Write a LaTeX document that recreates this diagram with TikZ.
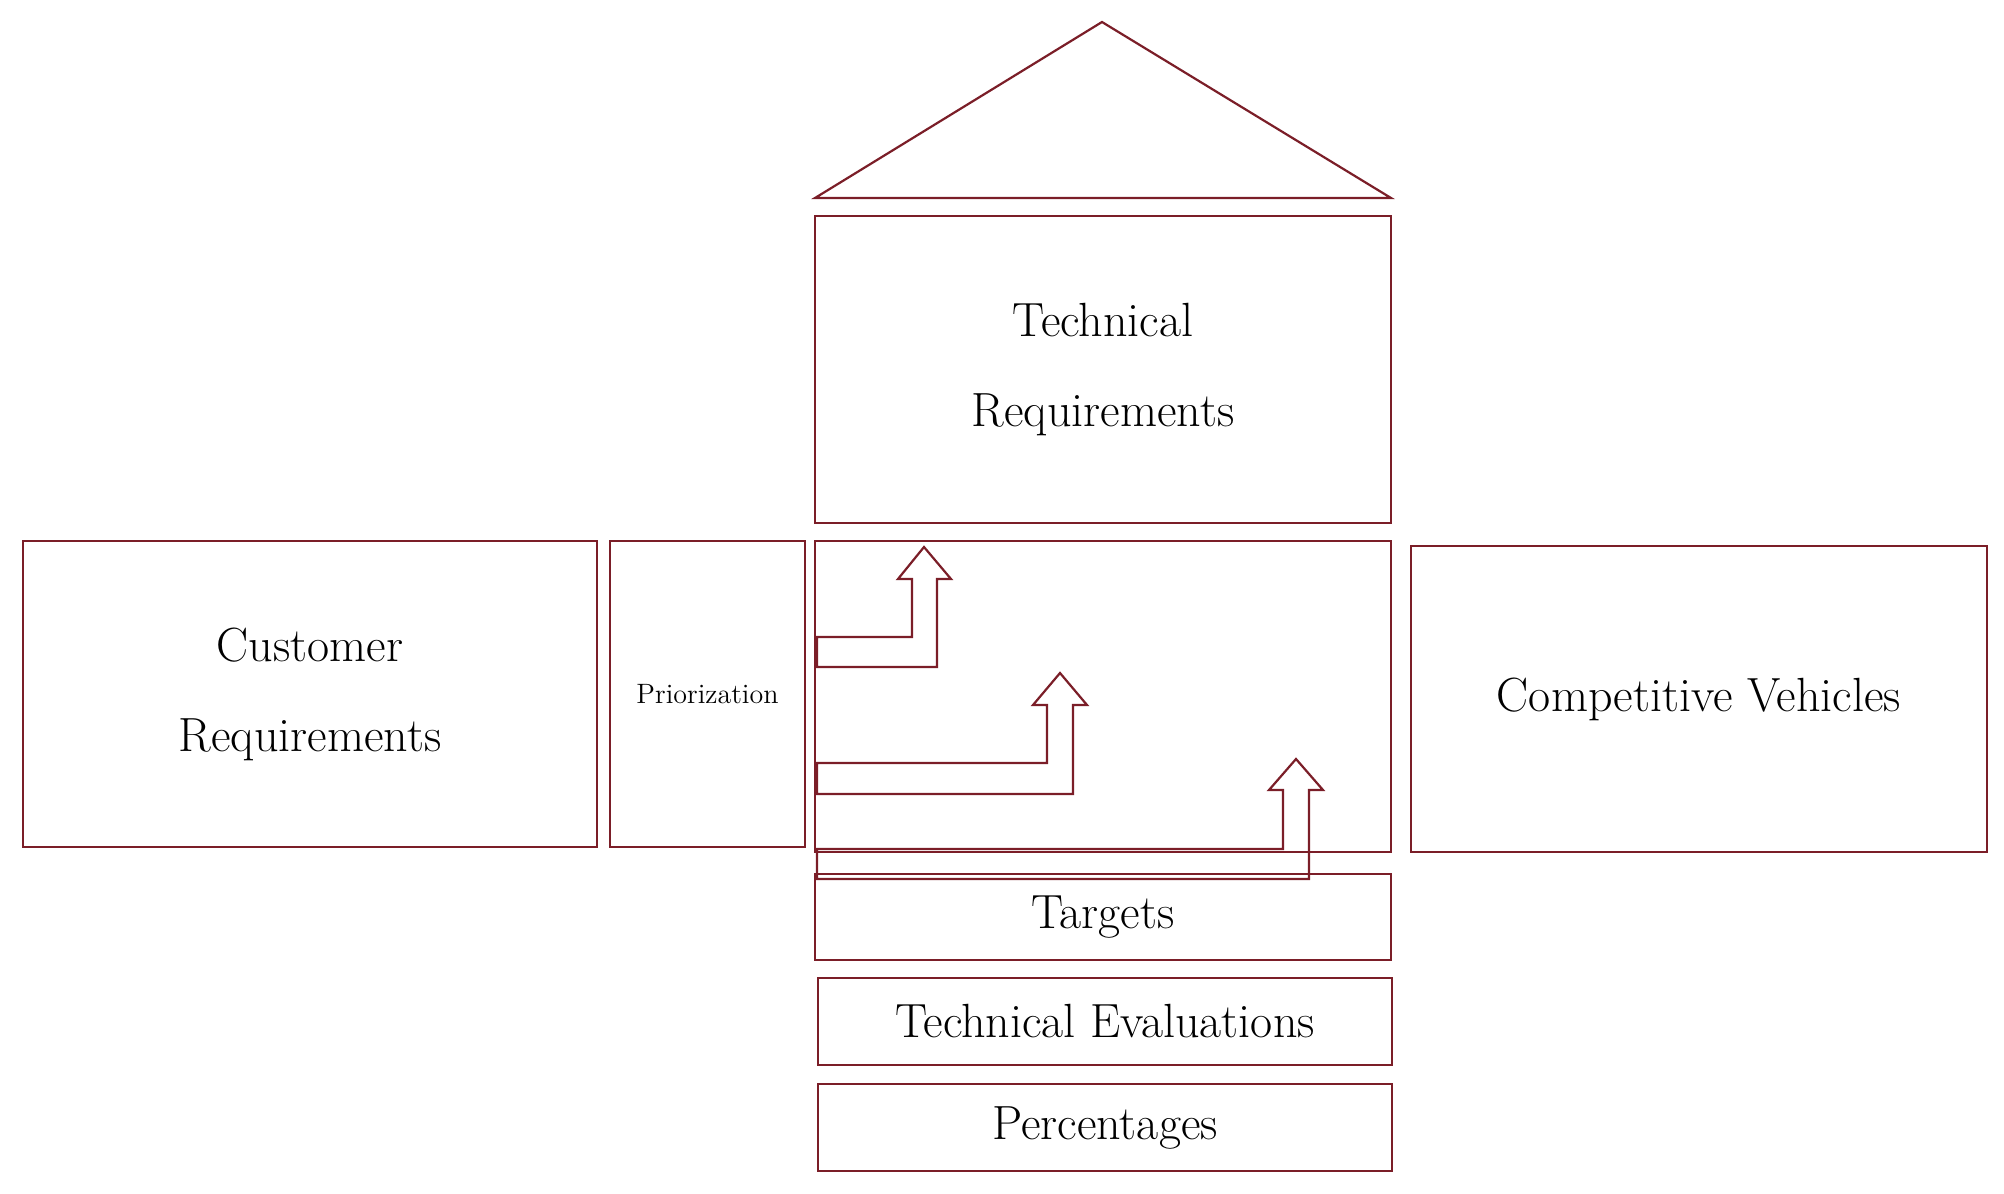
\documentclass[tikz,border=0pt]{standalone}
\begin{document}
\begin{tikzpicture}[x=0.5pt,y=-0.5pt,
  box/.style={draw=qred,line width=1.2pt,inner sep=0pt,align=center,font=\fontsize{24}{45}\selectfont},
  arr/.style={draw=qred,line width=1.1pt,line join=miter}]
\definecolor{qred}{HTML}{7B1E28}
\useasboundingbox (0,0) rectangle (2004,1194);
\newcommand{\bx}[6]{\node[box,minimum width={(#4-#2)*0.5pt},minimum height={(#5-#3)*0.5pt}] (#1) at ({(#2+#4)/2},{(#3+#5)/2}) {#6};}
\draw[arr] (815,198) -- (1102,22) -- (1391,198) -- cycle;
\bx{tech}{815}{216}{1391}{523}{Technical\\Requirements}
\bx{cust}{23}{541}{597}{847}{Customer\\Requirements}
\node[box,minimum width=97.5pt,minimum height=153pt,font=\fontsize{14}{16}\selectfont] (prio) at (707.5,694) {Priorization};
\bx{mat}{815}{541}{1391}{852}{}
\bx{comp}{1411}{546}{1987}{852}{Competitive Vehicles}
\bx{targ}{815}{874}{1391}{960}{Targets}
\bx{eval}{818}{978}{1392}{1065}{Technical Evaluations}
\bx{perc}{818}{1084}{1392}{1171}{Percentages}
\draw[arr] (817,637) -- (912,637) -- (912,579) -- (898,579) -- (924,547) -- (951,579) -- (937,579) -- (937,667) -- (817,667) -- cycle;
\draw[arr] (817,763) -- (1047,763) -- (1047,705) -- (1033,705) -- (1060,673) -- (1087,705) -- (1073,705) -- (1073,794) -- (817,794) -- cycle;
\draw[arr] (817,849) -- (1283,849) -- (1283,790) -- (1269,790) -- (1296,759) -- (1323,790) -- (1309,790) -- (1309,879) -- (817,879) -- cycle;
\end{tikzpicture}
\end{document}
